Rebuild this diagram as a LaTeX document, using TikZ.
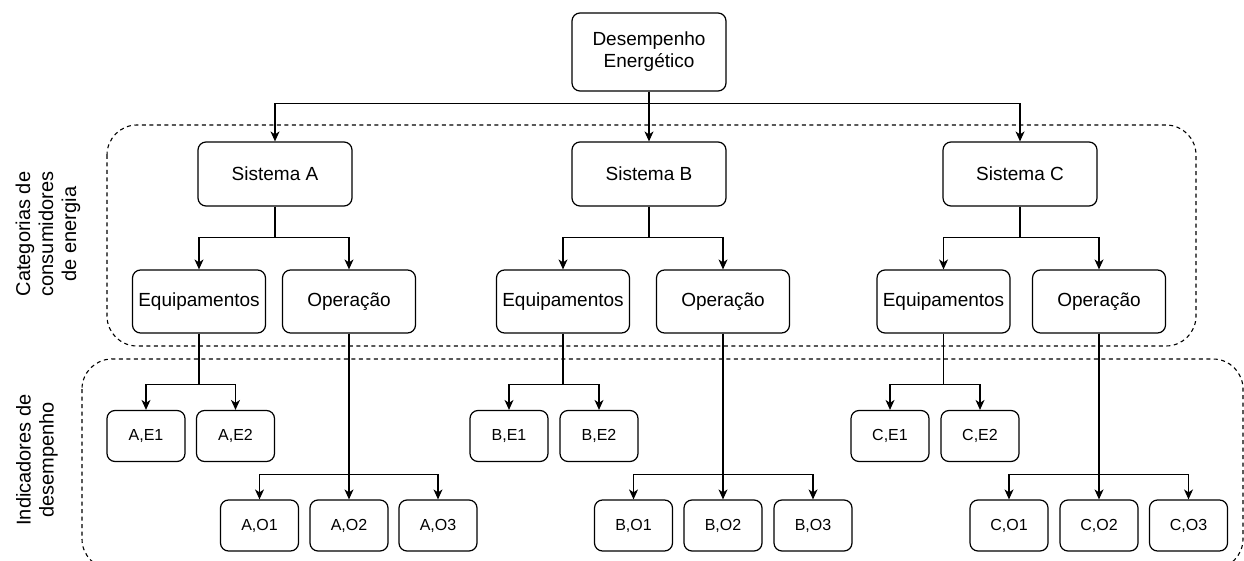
\documentclass[tikz,border=0pt]{standalone}
\usepackage{fontspec}
\setmainfont{Liberation Sans}
\usetikzlibrary{arrows.meta}

\tikzset{
  box/.style={draw, line width=1.2pt, rounded corners=8pt, inner sep=0pt,
    align=center, font=\fontsize{19}{22}\selectfont},
  bigbox/.style={box, minimum width=154pt, minimum height=64pt},
  midbox/.style={box, minimum width=133pt, minimum height=63pt},
  leafbox/.style={box, minimum width=78pt, minimum height=51pt,
    font=\fontsize{16}{19}\selectfont},
  link/.style={line width=1.2pt, -{Stealth[length=10pt, width=9pt, inset=3pt]}},
  group/.style={draw, line width=1.1pt, dash pattern=on 4pt off 3.5pt,
    rounded corners=30pt},
  sidelabel/.style={rotate=90, align=center, font=\fontsize{20}{23}\selectfont}
}

\begin{document}
\begin{tikzpicture}[x=1pt, y=-1pt]
\useasboundingbox (0,0) rectangle (1244,561);

% group frames
\draw[group] (107,125) rectangle (1196,346);
\begin{scope}
  \clip (0,0) rectangle (1244,561);
  \draw[group] (82,359) rectangle (1243,569);
\end{scope}

% side labels
\node[sidelabel] (lblcat) at (48,234) {Categorias de\\consumidores\\de energia};
\node[sidelabel] (lblind) at (37,460) {Indicadores de\\desempenho};

% root
\node[box, minimum width=154pt, minimum height=78pt] (top) at (649,52) {Desempenho\\Energético};

% systems
\node[bigbox] (sA) at (275,174) {Sistema A};
\node[bigbox] (sB) at (649,174) {Sistema B};
\node[bigbox] (sC) at (1020,174) {Sistema C};

% categories
\node[midbox] (eqA) at (199,301.5) {Equipamentos};
\node[midbox] (opA) at (349,301.5) {Operação};
\node[midbox] (eqB) at (563,301.5) {Equipamentos};
\node[midbox] (opB) at (723,301.5) {Operação};
\node[midbox] (eqC) at (943.5,301.5) {Equipamentos};
\node[midbox] (opC) at (1099,301.5) {Operação};

% indicators
\node[leafbox] (aE1) at (146,436) {A,E1};
\node[leafbox] (aE2) at (235.5,436) {A,E2};
\node[leafbox] (bE1) at (509,436) {B,E1};
\node[leafbox] (bE2) at (599,436) {B,E2};
\node[leafbox] (cE1) at (890,436) {C,E1};
\node[leafbox] (cE2) at (980,436) {C,E2};

\node[leafbox] (aO1) at (259.5,525.5) {A,O1};
\node[leafbox] (aO2) at (349,525.5) {A,O2};
\node[leafbox] (aO3) at (438,525.5) {A,O3};
\node[leafbox] (bO1) at (633.5,525.5) {B,O1};
\node[leafbox] (bO2) at (723,525.5) {B,O2};
\node[leafbox] (bO3) at (813,525.5) {B,O3};
\node[leafbox] (cO1) at (1009,525.5) {C,O1};
\node[leafbox] (cO2) at (1099,525.5) {C,O2};
\node[leafbox] (cO3) at (1188.5,525.5) {C,O3};

% root to systems
\draw[link] (top.south) -- ++(0,12) -| (sA.north);
\draw[link] (top.south) -- ++(0,12) -| (sC.north);
\draw[link] (top.south) -- (sB.north);

% systems to categories
\foreach \s/\e/\o in {sA/eqA/opA, sB/eqB/opB, sC/eqC/opC}{
  \draw[link] (\s.south) -- ++(0,31) -| (\e.north);
  \draw[link] (\s.south) -- ++(0,31) -| (\o.north);
}

% equipment to indicators
\foreach \e/\a/\b in {eqA/aE1/aE2, eqB/bE1/bE2, eqC/cE1/cE2}{
  \draw[link] (\e.south) -- ++(0,51) -| (\a.north);
  \draw[link] (\e.south) -- ++(0,51) -| (\b.north);
}

% operation to indicators
\foreach \o/\a/\b/\c in {opA/aO1/aO2/aO3, opB/bO1/bO2/bO3, opC/cO1/cO2/cO3}{
  \draw[link] (\o.south) -- ++(0,141) -| (\a.north);
  \draw[link] (\o.south) -- ++(0,141) -| (\c.north);
  \draw[link] (\o.south) -- (\b.north);
}
\end{tikzpicture}
\end{document}
